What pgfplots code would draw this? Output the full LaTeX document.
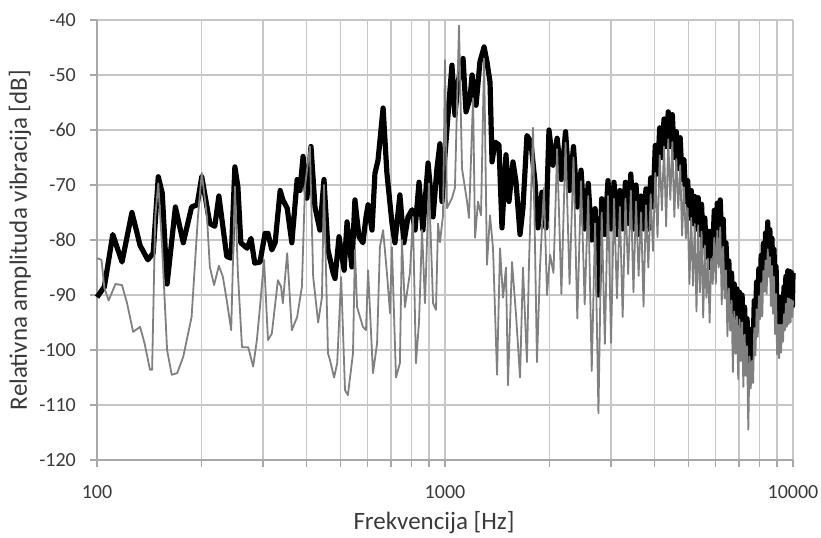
\documentclass[border=0pt]{standalone}
\usepackage{fontspec}
\setmainfont{Carlito}
\usepackage{pgfplots}
\pgfplotsset{compat=1.18}
\definecolor{gridc}{HTML}{C6C6C6}
\definecolor{axisc}{HTML}{A8A8A8}
\definecolor{txt}{HTML}{3A3A3A}
\definecolor{grayline}{HTML}{808080}
\begin{document}
\begin{tikzpicture}[x=1bp,y=1bp]
\begin{axis}[
  at={(0,0)}, anchor=south west,
  scale only axis, width=696bp, height=440bp,
  xmode=log, xmin=100, xmax=10000, ymin=-120, ymax=-40,
  xtick={100,1000,10000}, xticklabels={100,1000,10000},
  minor xtick={200,300,400,500,600,700,800,900,2000,3000,4000,5000,6000,7000,8000,9000},
  ytick={-120,-110,-100,-90,-80,-70,-60,-50,-40},
  yticklabels={-120,-110,-100,-90,-80,-70,-60,-50,-40},
  grid=both,
  major grid style={gridc, line width=1.2bp},
  minor grid style={gridc, line width=1.2bp},
  axis lines=left, axis line style={axisc, line width=1.3bp, -},
  tick align=outside, tick style={axisc, line width=1.2bp},
  major tick length=7bp, minor tick length=7bp,
  tick label style={font=\fontsize{20bp}{24bp}\selectfont, text=txt, inner sep=0pt},
  xticklabel style={anchor=center, yshift=-25bp},
  yticklabel style={anchor=east, xshift=-14bp},
  clip=false,
]
\addplot[black, line width=5.2bp, line join=round] coordinates {
(100,-90.4) (105,-88.5) (111,-79) (118,-84) (126,-75) (133,-81) (140,-83.6) (145,-82.4) (150,-68.5) (154,-71.5) (159,-88) (168,-74) (177,-80.5) (187,-74) (194,-73.6) (200,-68.5) (211,-77) (218,-77.5) (224,-72) (230,-77.6) (236,-83) (243,-83.3) (249,-66.7) (254,-70.3) (259,-80.5) (270,-81.5) (277,-79.7) (284,-84.2) (294,-84) (304,-78.8) (310,-78.8) (318,-81.8) (325,-80.5) (336,-71) (342,-72.7) (352,-74.2) (363,-80.5) (376,-69) (383,-71) (391,-64.8) (401,-72.4) (412,-63) (423,-74) (437,-78.2) (449,-69) (461,-81.8) (477,-86) (483,-87) (496,-79.4) (513,-85.5) (523,-76.7) (540,-84.9) (551,-72.7) (566,-79.4) (581,-80.5) (593,-75.8) (601,-73.6) (617,-78.2) (629,-67.9) (642,-65.5) (664,-56) (681,-67.9) (704,-76.9) (718,-80.5) (742,-71.8) (762,-80.5) (783,-75.8) (804,-74.5) (820,-78.2) (842,-69.5) (864,-78.2) (894,-66) (924,-75.8) (948,-67) (967,-62.5) (980,-73) (1000,-64.5) (1020,-57.3) (1047,-48.2) (1068,-57.3) (1090,-51.3) (1127,-47) (1149,-56.7) (1180,-54.2) (1196,-50) (1228,-55.5) (1260,-47.6) (1295,-44.9) (1320,-47.6) (1347,-51.3) (1365,-65.8) (1392,-62.2) (1429,-62.7) (1458,-77.8) (1497,-64.5) (1527,-73) (1568,-65.8) (1600,-69.5) (1643,-79) (1675,-74.2) (1720,-61) (1766,-62.2) (1814,-69.5) (1850,-77.8) (1900,-71.3) (1950,-77.8) (1990,-60) (2043,-66.4)
(2100,-61.5) (2160,-69) (2220,-60.3) (2280,-71) (2340,-63) (2400,-74) (2460,-67.3) (2520,-78) (2580,-69.7) (2640,-80) (2700,-74.3) (2760,-90) (2820,-72.5) (2880,-79) (2940,-69.2) (3000,-78) (3060,-69.5) (3120,-79) (3180,-71) (3240,-78) (3300,-69.5) (3360,-77) (3420,-68) (3480,-78) (3540,-70) (3600,-79) (3660,-72) (3720,-78) (3780,-70.7) (3840,-78) (3900,-68.7) (3960,-74) (4020,-62.8) (4080,-68) (4140,-59.6) (4200,-65) (4260,-58) (4320,-63) (4380,-56.7) (4440,-63) (4500,-57.2) (4560,-65) (4620,-60.3) (4680,-67) (4740,-61.4) (4800,-69) (4860,-65.4) (4920,-73) (4980,-69.2) (5040,-76) (5100,-71) (5160,-77) (5220,-72.1) (5280,-78) (5340,-72.3) (5400,-79) (5460,-73.5) (5520,-81) (5580,-76) (5640,-83) (5700,-78.4) (5760,-85) (5820,-78.4) (5880,-82) (5940,-74.6) (6000,-80) (6060,-73.3) (6120,-79) (6180,-72.7) (6240,-81) (6300,-76.2) (6360,-85) (6420,-80.5) (6480,-88) (6540,-83.8) (6600,-91) (6660,-86) (6720,-93) (6780,-88) (6840,-94) (6900,-88.9) (6960,-95) (7020,-89.5) (7080,-95.5) (7140,-90) (7200,-97) (7260,-92.2) (7320,-99) (7380,-94.3) (7440,-101) (7500,-96.2) (7560,-103) (7620,-97) (7680,-100) (7740,-91) (7800,-95) (7860,-87.6) (7920,-92) (7980,-85.2) (8040,-90) (8100,-82.8) (8160,-87) (8220,-80.6) (8280,-85) (8340,-78.7) (8400,-83) (8460,-76.7) (8520,-83) (8580,-78.1) (8640,-85) (8700,-79.7) (8760,-87) (8820,-81.7) (8880,-90) (8940,-84.8) (9000,-94) (9060,-90.4) (9120,-96) (9180,-90.4) (9240,-96) (9300,-90.4) (9360,-95) (9420,-88.5) (9480,-93) (9540,-86.6) (9600,-91) (9660,-85.6) (9720,-91) (9780,-85.7) (9840,-91) (9900,-85.9) (9960,-92) (10000,-86)
};
\addplot[grayline, line width=1.8bp, line join=round] coordinates {
(100,-83.3) (103,-83.6) (105,-88.7) (108,-91) (113,-88) (118,-88.2) (122,-91.5) (127,-96.7) (133,-95.8) (137,-98.8) (142,-103.6) (144,-103.6) (147,-75.8) (150,-69.7) (154,-81.8) (159,-100) (164,-104.5) (170,-104.2) (177,-101.2) (187,-94) (195,-75.8) (200,-67.8) (207,-75.8) (211,-84.9) (217,-88.2) (224,-84.7) (230,-86.7) (236,-91) (243,-96.4) (249,-70.3) (254,-86) (261,-99.5) (272,-99.5) (281,-103) (288,-98.2) (294,-92.2) (302,-83.6) (310,-98.2) (318,-97) (331,-87.3) (338,-88.5) (342,-91.5) (352,-82.4) (363,-96.4) (376,-94) (388,-88.5) (396,-70.3) (409,-63) (418,-86.7) (432,-95) (443,-90.4) (449,-70) (461,-100.6) (467,-101.8) (480,-105) (490,-102.4) (503,-86.7) (516,-107.3) (526,-108.2) (544,-100.6) (551,-81.8) (559,-92.2) (581,-95.8) (593,-96.4) (601,-85.5) (621,-104.2) (638,-98.8) (650,-81.3) (664,-78.2) (681,-86) (695,-93.3) (704,-81.3) (723,-105) (742,-102.4) (752,-80) (767,-92.2) (793,-86) (809,-75.8) (825,-102.4) (842,-95) (859,-78.2) (876,-91.5) (899,-69.7) (924,-91.5) (942,-92.7) (955,-77) (967,-80.4) (987,-75.5) (1000,-47.3) (1013,-74.2) (1047,-72.4) (1068,-70.5) (1097,-41) (1119,-67) (1157,-73) (1172,-76) (1204,-54.2) (1220,-79.6) (1244,-73) (1269,-75.5) (1295,-47) (1320,-84.5) (1347,-75.5) (1374,-81.5) (1411,-104.5) (1439,-81.5) (1468,-90.5) (1497,-85) (1517,-106.4) (1558,-84) (1600,-93.6) (1643,-105) (1675,-85) (1720,-102.2) (1743,-84.5) (1790,-59.6) (1838,-102.2) (1875,-85) (1925,-70.5) (1964,-90) (2004,-82.7) (2050,-86)
(2100,-63.5) (2160,-89.8) (2220,-62.3) (2280,-88) (2340,-65) (2400,-94.3) (2460,-69.3) (2520,-91.7) (2580,-72) (2640,-103.8) (2700,-77) (2760,-111.5) (2820,-75) (2880,-98.9) (2940,-72) (3000,-98.7) (3060,-72.5) (3120,-90.6) (3180,-74) (3240,-94) (3300,-72.5) (3360,-86.2) (3420,-71) (3480,-89.5) (3540,-73) (3600,-86.5) (3660,-75) (3720,-92.1) (3780,-73.7) (3840,-85) (3900,-71.7) (3960,-82) (4020,-67.8) (4080,-79.5) (4140,-64.6) (4200,-74.6) (4260,-63) (4320,-77.5) (4380,-61.7) (4440,-72.7) (4500,-62.2) (4560,-75.8) (4620,-65.3) (4680,-74.2) (4740,-66.4) (4800,-79.2) (4860,-70.4) (4920,-79.7) (4980,-74.2) (5040,-88) (5100,-76) (5160,-88.3) (5220,-77.1) (5280,-93) (5340,-77.3) (5400,-89.5) (5460,-78.5) (5520,-94.1) (5580,-81) (5640,-90.5) (5700,-83.4) (5760,-95) (5820,-83.4) (5880,-88) (5940,-79.6) (6000,-88) (6060,-78.3) (6120,-85) (6180,-77.7) (6240,-91.7) (6300,-81.2) (6360,-90.6) (6420,-85.5) (6480,-97.5) (6540,-88.8) (6600,-96.5) (6660,-91) (6720,-104) (6780,-93) (6840,-100.7) (6900,-93.9) (6960,-105.3) (7020,-94.5) (7080,-102) (7140,-95) (7200,-106.7) (7260,-97.2) (7320,-104.7) (7380,-99.3) (7440,-114.5) (7500,-101.2) (7560,-107) (7620,-102) (7680,-106) (7740,-96) (7800,-101) (7860,-92.6) (7920,-97.6) (7980,-90.2) (8040,-94.4) (8100,-87.8) (8160,-93.9) (8220,-85.6) (8280,-89.4) (8340,-83.7) (8400,-89.8) (8460,-81.7) (8520,-86.7) (8580,-83.1) (8640,-92) (8700,-84.7) (8760,-93.4) (8820,-86.7) (8880,-97.1) (8940,-89.8) (9000,-100.8) (9060,-95.4) (9120,-101.5) (9180,-95.4) (9240,-100.5) (9300,-95.4) (9360,-98.5) (9420,-93.5) (9480,-96.4) (9540,-91.6) (9600,-95.8) (9660,-90.6) (9720,-95.3) (9780,-90.7) (9840,-95) (9900,-90.9) (9960,-94) (10000,-91)
};
\end{axis}
\node[rotate=90, text=txt, font=\fontsize{25bp}{30bp}\selectfont] at (-77bp,220bp) {Relativna amplituda vibracija [dB]};
\node[text=txt, font=\fontsize{25bp}{30bp}\selectfont] at (337bp,-63bp) {Frekvencija [Hz]};
\pgfresetboundingbox
\path[use as bounding box] (-97bp,-78bp) rectangle (724bp,460bp);
\end{tikzpicture}
\end{document}
